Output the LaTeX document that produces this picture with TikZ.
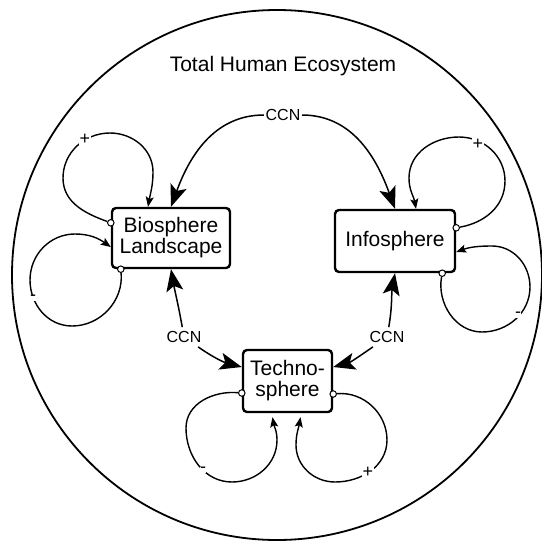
\documentclass[tikz,border=0pt]{standalone}
\usepackage{fontspec}
\setmainfont{Liberation Sans}
\usetikzlibrary{arrows.meta, positioning}
\tikzset{sphere/.style={draw, line width=2.4pt, rounded corners=4pt, align=center, inner sep=1pt, font=\fontsize{21}{21}\selectfont}}
\tikzset{link/.style={line width=1.5pt, -{Stealth[length=22pt, width=17pt, inset=5pt]}}}
\tikzset{feedback/.style={line width=1.4pt, -{Stealth[length=10pt, width=8pt, inset=2pt]}}}
\tikzset{port/.style={circle, draw, line width=1pt, fill=white, inner sep=0pt, minimum size=6.5pt}}
\tikzset{sign/.style={fill=white, inner sep=0.5pt, font=\fontsize{18}{18}\selectfont}}
\tikzset{ccn/.style={font=\fontsize{16}{16}\selectfont, inner sep=1.5pt}}
\begin{document}
\begin{tikzpicture}[x=1pt, y=1pt]
\useasboundingbox (0,0) rectangle (542,-542);
\draw[line width=1.8pt] (277,-275) circle [radius=265];
\node[font=\fontsize{21}{25}\selectfont] (title) at (283,-66) {Total Human Ecosystem};

\node[sphere, minimum width=118pt, minimum height=60pt] (bio) at (171,-238) {Biosphere\\Landscape};
\node[sphere, minimum width=120pt, minimum height=62pt] (info) at (395,-241) {Infosphere};
\node[sphere, minimum width=89pt, minimum height=62pt] (techno) at (287.5,-381) {Techno-\\sphere};

\node[ccn] (ccntop) at (283,-115) {CCN};
\node[ccn, inner sep=4pt] (ccnleft) at (184,-337) {CCN};
\node[ccn, inner sep=4pt] (ccnright) at (387,-337) {CCN};

\draw[link] (ccntop) to[out=180, in=70] (bio.north);
\draw[link] (ccntop) to[out=0, in=110] (info.north);
\draw[link] (ccnleft) to[out=100, in=-80] (bio.south);
\draw[link] (ccnleft) to[out=-35, in=165] ([yshift=14pt]techno.west);
\draw[link] (ccnright) to[out=80, in=-100] (info.south);
\draw[link] (ccnright) to[out=-145, in=15] ([yshift=14pt]techno.east);

\node[port] (bioplus) at ([yshift=-16pt]bio.north west) {};
\node[port] (bioneg) at ([xshift=10pt]bio.south west) {};
\node[port] (infoplus) at ([yshift=-19pt]info.north east) {};
\node[port] (infoneg) at ([xshift=-14pt]info.south east) {};
\node[port] (technoneg) at ([yshift=-12pt]techno.west) {};
\node[port] (technoplus) at ([yshift=-13pt]techno.east) {};

\draw[feedback] (bioplus) to[out=160, in=-90] (63,-178) to[out=90, in=180] (110,-133) to[out=0, in=90] (153,-172) to[out=-90, in=80] ([xshift=-23pt]bio.north);
\draw[feedback] (bioneg) to[out=-85, in=0] (72,-326) to[out=180, in=-90] (30,-280) to[out=90, in=180] (75,-234) to[out=0, in=145] ([yshift=-9pt]bio.west);
\draw[feedback] (infoplus) to[out=10, in=-90] (505,-181) to[out=90, in=0] (459,-137) to[out=180, in=90] (409,-178) to[out=-90, in=100] ([xshift=21pt]info.north);
\draw[feedback] (infoneg) to[out=-100, in=180] (482,-332) to[out=0, in=-90] (530,-287) to[out=90, in=0] (492,-246) to[out=180, in=20] ([yshift=-11pt]info.east);
\draw[feedback] (technoneg) to[out=175, in=90] (186,-428) to[out=-90, in=180] (232,-482) to[out=0, in=-90] (277,-440) to[out=90, in=-80] ([xshift=-15pt, yshift=-4pt]techno.south);
\draw[feedback] (technoplus) to[out=5, in=90] (387,-440) to[out=-90, in=0] (335,-482) to[out=180, in=-90] (296,-445) to[out=90, in=-100] ([xshift=13pt, yshift=-4pt]techno.south);

\node[sign] (bioplussign) at (85,-139) {+};
\node[sign] (bionegsign) at (33,-298) {-};
\node[sign] (infoplussign) at (478,-144) {+};
\node[sign] (infonegsign) at (518,-315) {-};
\node[sign] (technonegsign) at (203,-470) {-};
\node[sign] (technoplussign) at (368,-472) {+};
\end{tikzpicture}
\end{document}
